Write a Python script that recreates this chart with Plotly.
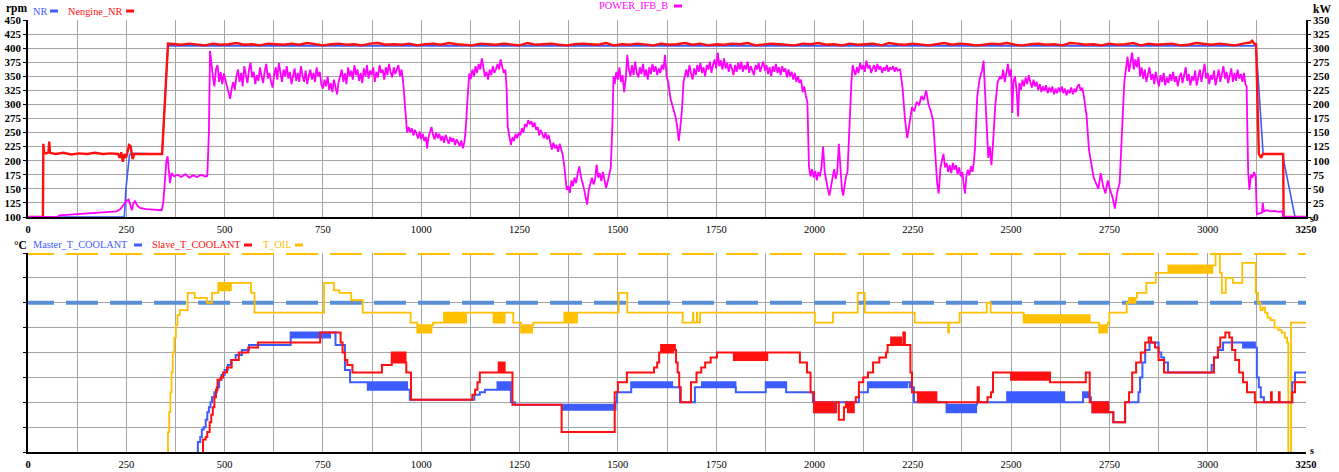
import plotly.graph_objects as go

# ---------------- axis ticks ----------------
time_ticks = [0, 125, 250, 375, 500, 625, 750, 875, 1000, 1125, 1250, 1375, 1500, 1625,
              1750, 1875, 2000, 2125, 2250, 2375, 2500, 2625, 2750, 2875, 3000, 3125, 3250]
time_labels = ["<b>0</b>", "", "250", "", "500", "", "750", "", "1000", "", "1250", "", "1500", "",
               "1750", "", "2000", "", "2250", "", "2500", "", "2750", "", "3000", "", "<b>3250</b>"]
rpm_ticks = [100, 125, 150, 175, 200, 225, 250, 275, 300, 325, 350, 375, 400, 425, 450]
kw_ticks = [0, 25, 50, 75, 100, 125, 150, 175, 200, 225, 250, 275, 300, 325, 350]
temp_ticks = [40, 50, 60, 70, 80, 90, 100, 110, 120]

# ---------------- speed signals (rpm) ----------------
nr = [(0, 100), (245, 100), (249, 150), (255, 200), (258, 210), (262, 213), (341, 212), (356, 404),
      (600, 404), (900, 403.5), (1200, 404), (1500, 403.5), (1800, 404), (2100, 403.5), (2400, 404),
      (2700, 403.5), (3000, 404), (3123, 404), (3141, 212), (3190, 212), (3222, 100)]

nengine_nr = [
    (0, 100), (38, 100), (39, 230), (41, 214), (46, 213), (52, 215), (54, 234), (56, 214), (70, 212),
    (90, 214), (110, 211), (130, 213), (150, 212), (170, 214), (190, 212), (210, 213), (229, 212),
    (233, 205), (237, 215), (241, 198), (245, 212), (249, 205), (253, 215), (257, 228), (261, 226),
    (264, 210), (266, 203), (270, 212), (290, 212), (310, 213), (330, 212), (341, 212), (356, 408),
    (370, 407), (390, 406), (410, 408), (430, 407), (450, 405), (470, 408), (490, 406), (510, 407),
    (530, 409), (550, 406), (570, 407), (590, 405), (610, 408), (630, 407), (650, 406), (670, 408),
    (690, 406), (710, 409), (730, 407), (750, 405), (770, 407), (790, 408), (810, 406), (830, 407),
    (850, 405), (870, 408), (890, 409), (910, 406), (930, 407), (950, 406), (970, 408), (990, 405),
    (1010, 407), (1030, 408), (1050, 406), (1070, 409), (1090, 407), (1110, 406), (1130, 405),
    (1150, 408), (1170, 407), (1190, 406), (1210, 408), (1230, 407), (1250, 405), (1270, 409),
    (1290, 406), (1310, 407), (1330, 408), (1350, 406), (1370, 405), (1390, 407), (1410, 408),
    (1430, 407), (1450, 406), (1470, 409), (1490, 405), (1510, 407), (1530, 406), (1550, 408),
    (1570, 407), (1590, 405), (1610, 408), (1630, 406), (1650, 407), (1670, 409), (1690, 406),
    (1710, 408), (1730, 405), (1750, 407), (1770, 406), (1790, 408), (1810, 407), (1830, 409),
    (1850, 405), (1870, 406), (1890, 408), (1910, 407), (1930, 406), (1950, 405), (1970, 408),
    (1990, 407), (2010, 409), (2030, 406), (2050, 407), (2070, 405), (2090, 408), (2110, 406),
    (2130, 407), (2150, 408), (2170, 405), (2190, 409), (2210, 407), (2230, 406), (2250, 408),
    (2270, 406), (2290, 405), (2310, 407), (2330, 409), (2350, 406), (2370, 408), (2390, 407),
    (2410, 405), (2430, 406), (2450, 408), (2470, 407), (2490, 409), (2510, 406), (2530, 405),
    (2550, 407), (2570, 408), (2590, 406), (2610, 407), (2630, 405), (2650, 409), (2670, 408),
    (2690, 406), (2710, 407), (2730, 405), (2750, 408), (2770, 406), (2790, 407), (2810, 409),
    (2830, 405), (2850, 408), (2870, 406), (2890, 407), (2910, 408), (2930, 405), (2950, 406),
    (2970, 409), (2990, 407), (3010, 406), (3030, 408), (3050, 407), (3070, 405), (3090, 408),
    (3108, 410), (3113, 413), (3118, 408), (3123, 407), (3126, 300), (3130, 212), (3136, 205),
    (3140, 212), (3160, 212), (3180, 212), (3192, 212), (3193, 100), (3250, 100)]

# ---------------- power (kW) ----------------
power_ifb_b = [
    (0, 0), (75, 0), (80, 3), (100, 4), (120, 5), (140, 6), (160, 7), (180, 8), (200, 9), (225, 10),
    (235, 14), (242, 20), (250, 28), (256, 31), (260, 22), (264, 12), (268, 24), (272, 28), (278, 20),
    (285, 16), (300, 14), (320, 13), (340, 12), (344, 25), (348, 70), (352, 100), (355, 108), (358, 80),
    (361, 60), (365, 78), (372, 72), (380, 75), (390, 71), (400, 76), (410, 70), (420, 74), (430, 71),
    (440, 75), (450, 72), (456, 73),
    (460, 150), (463, 295), (466, 270), (470, 250), (474, 232), (478, 262), (482, 270), (486, 240),
    (490, 258), (494, 236), (498, 255), (502, 244), (506, 228), (510, 220), (514, 210), (518, 228),
    (522, 240), (526, 226), (530, 250), (534, 262), (538, 240), (542, 256), (546, 232), (550, 268),
    (554, 250), (558, 238), (562, 262), (566, 274), (570, 248), (574, 258), (578, 236), (582, 252),
    (586, 242), (590, 266), (594, 250), (598, 238), (602, 260), (606, 272), (610, 246), (614, 256),
    (618, 240), (622, 230), (626, 252), (630, 266), (634, 244), (638, 274), (642, 256), (646, 240),
    (650, 262), (654, 250), (658, 268), (662, 246), (666, 258), (670, 236), (674, 250), (678, 264),
    (682, 242), (686, 256), (690, 240), (694, 268), (698, 252), (702, 240), (706, 260), (710, 236),
    (714, 250), (718, 262), (722, 244), (726, 256), (730, 240), (734, 266), (738, 250), (742, 258),
    (746, 236), (750, 228), (754, 244), (758, 232), (762, 250), (766, 226), (770, 238), (774, 222),
    (778, 244), (782, 228), (786, 218), (790, 240), (794, 250), (798, 262), (802, 240), (806, 255),
    (810, 236), (814, 266), (818, 250), (822, 260), (826, 244), (830, 270), (834, 252), (838, 262),
    (842, 242), (846, 256), (850, 238), (854, 264), (858, 250), (862, 270), (866, 246), (870, 260),
    (874, 252), (878, 266), (882, 240), (886, 258), (890, 248), (894, 270), (898, 256), (902, 262),
    (906, 244), (910, 266), (914, 252), (918, 272), (922, 258), (926, 248), (930, 266), (934, 254),
    (938, 262), (942, 270), (946, 250), (950, 262), (954, 240),
    (958, 200), (961, 165), (964, 150), (968, 160), (972, 150), (976, 158), (980, 145), (984, 155),
    (988, 148), (992, 140), (996, 152), (1000, 138), (1004, 148), (1008, 135), (1012, 142),
    (1015, 122), (1018, 140), (1022, 150), (1026, 160), (1030, 146), (1034, 138), (1038, 150),
    (1042, 140), (1046, 148), (1050, 136), (1054, 144), (1058, 132), (1062, 146), (1066, 138),
    (1070, 130), (1074, 142), (1078, 134), (1082, 140), (1086, 128), (1090, 138), (1094, 132),
    (1098, 126), (1102, 136), (1106, 122), (1110, 134), (1113, 155),
    (1116, 190), (1119, 232), (1122, 255), (1126, 245), (1130, 262), (1134, 250), (1138, 268),
    (1142, 256), (1146, 272), (1150, 262), (1154, 282), (1158, 266), (1162, 250), (1166, 258),
    (1170, 244), (1174, 262), (1178, 252), (1182, 268), (1186, 256), (1190, 262), (1194, 272),
    (1198, 262), (1202, 280), (1206, 266), (1210, 256), (1214, 262), (1217, 230),
    (1220, 160), (1224, 140), (1228, 128), (1232, 142), (1236, 135), (1240, 148), (1244, 140),
    (1248, 150), (1252, 145), (1256, 158), (1260, 150), (1264, 165), (1268, 160), (1272, 172),
    (1276, 165), (1280, 170), (1284, 160), (1288, 168), (1292, 155), (1296, 160), (1300, 145),
    (1304, 155), (1308, 148), (1312, 140), (1316, 150), (1320, 138), (1324, 146), (1328, 130),
    (1332, 120), (1336, 132), (1340, 122), (1344, 128), (1348, 116), (1352, 130), (1356, 120),
    (1360, 110),
    (1364, 90), (1367, 60), (1370, 48), (1374, 55), (1378, 43), (1382, 65), (1386, 55), (1390, 70),
    (1394, 60), (1398, 78), (1402, 90), (1406, 72), (1410, 62), (1414, 50), (1418, 35), (1422, 22),
    (1426, 48), (1430, 62), (1434, 70), (1438, 58), (1442, 66), (1446, 93), (1450, 70), (1454, 78),
    (1458, 64), (1462, 80), (1466, 68), (1470, 52), (1474, 62), (1478, 74), (1482, 88),
    (1486, 160), (1489, 250), (1492, 236), (1496, 258), (1500, 244), (1504, 266), (1508, 240),
    (1512, 252), (1516, 222), (1520, 245), (1524, 288), (1528, 262), (1532, 250), (1536, 270),
    (1540, 252), (1544, 276), (1548, 256), (1552, 248), (1556, 266), (1560, 254), (1564, 272),
    (1568, 250), (1572, 262), (1576, 244), (1580, 266), (1584, 254), (1588, 272), (1592, 258),
    (1596, 268), (1600, 252), (1604, 264), (1608, 256), (1612, 270), (1616, 262), (1620, 288),
    (1624, 250),
    (1628, 240), (1634, 210), (1640, 195), (1646, 180), (1650, 165), (1655, 135), (1659, 160),
    (1663, 190), (1667, 240),
    (1670, 250), (1674, 262), (1678, 248), (1682, 270), (1686, 256), (1690, 244), (1694, 264),
    (1698, 252), (1702, 270), (1706, 258), (1710, 274), (1714, 256), (1718, 266), (1722, 250),
    (1726, 270), (1730, 262), (1734, 276), (1738, 256), (1742, 270), (1746, 280), (1750, 264),
    (1754, 292), (1758, 268), (1762, 278), (1766, 262), (1770, 282), (1774, 264), (1778, 274),
    (1782, 258), (1786, 272), (1790, 264), (1794, 252), (1798, 270), (1802, 258), (1806, 274),
    (1810, 262), (1814, 276), (1818, 258), (1822, 270), (1826, 262), (1830, 276), (1834, 256),
    (1838, 268), (1842, 260), (1846, 252), (1850, 270), (1854, 262), (1858, 274), (1862, 258),
    (1866, 268), (1870, 276), (1874, 260), (1878, 270), (1882, 254), (1886, 266), (1890, 250),
    (1894, 268), (1898, 258), (1902, 272), (1906, 256), (1910, 266), (1914, 252), (1918, 268),
    (1922, 258), (1926, 264), (1930, 248), (1934, 262), (1938, 250), (1942, 258), (1946, 244),
    (1950, 256), (1954, 240), (1958, 250), (1962, 238), (1966, 244), (1970, 222), (1974, 232),
    (1978, 215), (1982, 205),
    (1986, 90), (1990, 72), (1994, 85), (1998, 70), (2002, 82), (2006, 65), (2010, 80), (2014, 72),
    (2018, 90), (2022, 125), (2026, 80), (2030, 62), (2034, 50), (2038, 38), (2042, 55), (2046, 70),
    (2050, 85), (2054, 68), (2058, 80), (2062, 130), (2066, 82), (2070, 48), (2073, 38), (2076, 58),
    (2080, 72), (2084, 80),
    (2088, 150), (2091, 215), (2094, 240), (2097, 270), (2100, 262), (2104, 252), (2108, 266),
    (2112, 256), (2116, 274), (2120, 262), (2124, 270), (2128, 258), (2132, 278), (2136, 264),
    (2140, 270), (2144, 256), (2148, 264), (2152, 270), (2156, 258), (2160, 272), (2164, 262),
    (2168, 268), (2172, 256), (2176, 266), (2180, 260), (2184, 270), (2188, 258), (2192, 266),
    (2196, 262), (2200, 268), (2204, 258), (2208, 266), (2212, 260),
    (2218, 262), (2224, 230), (2230, 175), (2236, 140), (2242, 170), (2248, 195), (2254, 188),
    (2260, 205), (2266, 198), (2272, 215), (2278, 208), (2284, 225), (2290, 200), (2296, 188),
    (2302, 170), (2306, 130), (2312, 60), (2316, 42),
    (2320, 85), (2324, 100), (2328, 112), (2332, 88), (2336, 96), (2340, 80), (2344, 92), (2348, 78),
    (2352, 96), (2356, 84), (2360, 92), (2364, 76), (2368, 88), (2372, 72), (2376, 80), (2380, 55),
    (2383, 42), (2386, 70), (2390, 84), (2394, 74), (2398, 90), (2402, 80), (2405, 95),
    (2408, 120), (2414, 215), (2420, 245), (2426, 260), (2430, 278), (2434, 220), (2438, 150),
    (2442, 105), (2446, 125), (2450, 92), (2454, 130), (2460, 200), (2466, 240), (2472, 250),
    (2476, 245), (2480, 262), (2484, 240), (2488, 258), (2492, 272), (2496, 250), (2500, 262),
    (2503, 185), (2506, 240), (2510, 250), (2514, 226), (2518, 178), (2521, 238), (2525, 226),
    (2529, 244), (2533, 232), (2537, 248), (2541, 236), (2545, 252), (2549, 240), (2553, 230),
    (2557, 244), (2561, 232), (2565, 240), (2569, 226), (2573, 236), (2577, 222), (2581, 232),
    (2585, 224), (2589, 234), (2593, 220), (2597, 230), (2601, 222), (2605, 232), (2609, 218),
    (2613, 228), (2617, 220), (2621, 230), (2625, 222), (2629, 232), (2633, 220), (2637, 228),
    (2641, 216), (2645, 226), (2649, 220), (2653, 230), (2657, 218), (2661, 228), (2665, 222),
    (2669, 232), (2673, 236), (2677, 224), (2681, 230), (2685, 215),
    (2692, 180), (2698, 120), (2704, 95), (2710, 70), (2716, 60), (2722, 50), (2728, 78), (2734, 55),
    (2740, 42), (2746, 65), (2752, 48), (2758, 35), (2764, 15), (2770, 45), (2776, 60),
    (2780, 120), (2784, 200), (2788, 240), (2792, 262), (2796, 285), (2800, 258), (2804, 272),
    (2808, 292), (2812, 262), (2816, 280), (2820, 266), (2824, 284), (2828, 250), (2832, 266),
    (2836, 246), (2840, 262), (2844, 240), (2848, 256), (2852, 266), (2856, 244), (2860, 254),
    (2864, 236), (2868, 258), (2872, 244), (2876, 232), (2880, 252), (2884, 240), (2888, 256),
    (2892, 234), (2896, 248), (2900, 238), (2904, 254), (2908, 242), (2912, 258), (2916, 240),
    (2920, 250), (2924, 232), (2928, 248), (2932, 256), (2936, 238), (2940, 250), (2944, 266),
    (2948, 242), (2952, 254), (2956, 234), (2960, 250), (2964, 242), (2968, 260), (2972, 234),
    (2976, 250), (2980, 262), (2984, 240), (2988, 254), (2992, 272), (2996, 246), (3000, 256),
    (3004, 236), (3008, 252), (3012, 244), (3016, 260), (3020, 234), (3024, 250), (3028, 262),
    (3032, 240), (3036, 254), (3040, 268), (3044, 246), (3048, 258), (3052, 238), (3056, 252),
    (3060, 264), (3064, 240), (3068, 256), (3072, 242), (3076, 262), (3080, 246), (3084, 254),
    (3088, 240), (3092, 256), (3096, 236), (3099, 232),
    (3101, 150), (3103, 80), (3106, 48), (3110, 75), (3114, 70), (3118, 80), (3122, 72), (3125, 5),
    (3130, 6), (3138, 8), (3140, 25), (3143, 10), (3150, 12), (3160, 10), (3170, 11), (3180, 9),
    (3190, 10), (3192, 0), (3250, 0)]

# ---------------- temperatures ----------------
coolant_limit = 100
oil_limit = 120

master_t_coolant = [
    (430, 40), (432, 44), (438, 46), (442, 49), (447, 50), (452, 53), (456, 56), (460, 58), (464, 60),
    (468, 62), (474, 64), (480, 66), (486, 69), (492, 71), (500, 73), (508, 75), (516, 77), (528, 79),
    (544, 81), (562, 83), (666, 83),
    (668, 88), (673, 86), (678, 88), (683, 86), (688, 88), (693, 86), (698, 88), (703, 86), (708, 88),
    (713, 86), (718, 88), (723, 86), (728, 88), (733, 86), (738, 88), (743, 86), (748, 88), (753, 86),
    (758, 88), (763, 86), (768, 88), (780, 88), (782, 83), (800, 83), (806, 73), (819, 68), (860, 68),
    (864, 65), (869, 68), (874, 65), (879, 68), (884, 65), (889, 68), (894, 65), (899, 68), (904, 65),
    (909, 68), (914, 65), (919, 68), (924, 65), (929, 68), (934, 65), (939, 68), (944, 65), (949, 68),
    (954, 65), (959, 68), (964, 65),
    (971, 61), (1124, 61), (1135, 63), (1149, 64), (1162, 65), (1190, 65),
    (1194, 68), (1199, 65), (1204, 68), (1209, 65), (1214, 68), (1219, 65), (1224, 68),
    (1228, 60), (1238, 59), (1353, 59),
    (1358, 57), (1363, 59), (1368, 57), (1373, 59), (1378, 57), (1383, 59), (1388, 57), (1393, 59),
    (1398, 57), (1403, 59), (1408, 57), (1413, 59), (1418, 57), (1423, 59), (1428, 57), (1433, 59),
    (1438, 57), (1443, 59), (1448, 57), (1453, 59), (1458, 57), (1463, 59), (1468, 57), (1473, 59),
    (1478, 57), (1483, 59), (1488, 57),
    (1494, 60), (1498, 64), (1523, 64), (1534, 68),
    (1538, 66), (1543, 68), (1548, 66), (1553, 68), (1558, 66), (1563, 68), (1568, 66), (1573, 68),
    (1578, 66), (1583, 68), (1588, 66), (1593, 68), (1598, 66), (1603, 68), (1608, 66), (1613, 68),
    (1618, 66), (1623, 68), (1628, 66), (1633, 68), (1638, 66),
    (1650, 66), (1658, 60), (1686, 60), (1696, 66), (1709, 66),
    (1714, 68), (1719, 66), (1724, 68), (1729, 66), (1734, 68), (1739, 66), (1744, 68), (1749, 66),
    (1754, 68), (1759, 66), (1764, 68), (1769, 66), (1774, 68), (1779, 66), (1784, 68), (1789, 66),
    (1794, 68), (1799, 66),
    (1800, 64), (1872, 64),
    (1876, 68), (1881, 66), (1886, 68), (1891, 66), (1896, 68), (1901, 66), (1906, 68), (1911, 66),
    (1916, 68), (1921, 66), (1926, 68),
    (1928, 64), (1986, 64), (1996, 60),
    (2000, 56), (2005, 60), (2010, 56), (2015, 60), (2020, 56), (2025, 60), (2030, 56), (2035, 60),
    (2040, 56), (2045, 60), (2050, 56), (2055, 60),
    (2103, 60), (2113, 64), (2136, 68),
    (2141, 66), (2146, 68), (2151, 66), (2156, 68), (2161, 66), (2166, 68), (2171, 66), (2176, 68),
    (2181, 66), (2186, 68), (2191, 66), (2196, 68), (2201, 66), (2206, 68), (2211, 66), (2216, 68),
    (2221, 66), (2226, 68), (2231, 66), (2236, 68),
    (2243, 66), (2253, 60), (2332, 60),
    (2336, 56), (2341, 59), (2346, 56), (2351, 59), (2356, 56), (2361, 59), (2366, 56), (2371, 59),
    (2376, 56), (2381, 59), (2386, 56), (2391, 59), (2396, 56), (2401, 59), (2406, 56), (2411, 59),
    (2413, 60), (2485, 60),
    (2490, 64), (2495, 60), (2500, 64), (2505, 60), (2510, 64), (2515, 60), (2520, 64), (2525, 60),
    (2530, 64), (2535, 60), (2540, 64), (2545, 60), (2550, 64), (2555, 60), (2560, 64), (2565, 60),
    (2570, 64), (2575, 60), (2580, 64), (2585, 60), (2590, 64), (2595, 60), (2600, 64), (2605, 60),
    (2610, 64), (2615, 60), (2620, 64), (2625, 60), (2630, 64), (2635, 60),
    (2680, 60), (2683, 64), (2688, 62), (2693, 64), (2698, 62), (2703, 60),
    (2707, 56), (2712, 60), (2717, 56), (2722, 60), (2727, 56), (2732, 60), (2737, 56), (2742, 60),
    (2747, 56),
    (2760, 52), (2785, 52), (2790, 60), (2818, 60), (2824, 64), (2828, 70), (2834, 76), (2841, 81),
    (2852, 84), (2866, 84), (2875, 80), (2882, 78), (2889, 76), (2899, 72), (3003, 72), (3010, 75),
    (3016, 78), (3026, 81), (3039, 84), (3085, 84),
    (3090, 82), (3095, 84), (3100, 82), (3105, 84), (3110, 82), (3115, 84), (3120, 82),
    (3125, 70), (3130, 66), (3135, 62), (3143, 60), (3212, 60), (3215, 68), (3222, 72), (3250, 72)]

slave_t_coolant = [
    (443, 40), (445, 45), (452, 46), (456, 48), (462, 52), (466, 55), (470, 58), (474, 62), (478, 65),
    (482, 69), (490, 70), (496, 72), (506, 74), (518, 77), (536, 80), (560, 82), (585, 84), (740, 84),
    (743, 88), (790, 88), (795, 84), (800, 80), (806, 77), (812, 75), (825, 72), (895, 72), (900, 75),
    (921, 75),
    (925, 80), (930, 76), (935, 80), (940, 76), (945, 80), (950, 76), (955, 80), (960, 76),
    (962, 72), (970, 72), (974, 61), (1124, 61), (1130, 63), (1137, 65), (1143, 68), (1149, 72),
    (1193, 72),
    (1197, 76), (1202, 72), (1207, 76), (1212, 72),
    (1226, 72), (1232, 59), (1353, 59), (1357, 48), (1490, 48), (1492, 64), (1500, 68), (1523, 72),
    (1582, 72), (1592, 74), (1600, 76),
    (1605, 80), (1610, 83), (1615, 80), (1620, 83), (1625, 80), (1630, 83), (1635, 80), (1640, 83),
    (1645, 81), (1648, 76), (1652, 72), (1656, 66), (1660, 60), (1673, 60), (1686, 68), (1700, 72),
    (1712, 74), (1722, 76), (1736, 78), (1752, 80), (1790, 80),
    (1795, 77), (1800, 80), (1805, 77), (1810, 80), (1815, 77), (1820, 80), (1825, 77), (1830, 80),
    (1835, 77), (1840, 80), (1845, 77), (1850, 80), (1855, 77), (1860, 80), (1865, 77), (1870, 80),
    (1875, 77), (1880, 80),
    (1950, 80), (1963, 76), (1981, 72), (1990, 64), (1999, 56),
    (2004, 60), (2009, 56), (2014, 60), (2019, 56), (2024, 60), (2029, 56), (2034, 60), (2039, 56),
    (2044, 60), (2049, 56), (2055, 60),
    (2062, 53), (2070, 53), (2075, 58),
    (2080, 60), (2085, 56), (2090, 60), (2095, 56), (2100, 60),
    (2105, 62), (2113, 68), (2124, 70), (2136, 72), (2149, 76), (2165, 78), (2182, 80), (2186, 83),
    (2195, 86), (2200, 83), (2205, 86), (2210, 83), (2215, 86), (2220, 83),
    (2226, 88), (2230, 83), (2240, 83), (2244, 72), (2248, 64),
    (2258, 64), (2263, 60), (2268, 64), (2273, 60), (2278, 64), (2283, 60), (2288, 64), (2293, 60),
    (2298, 64), (2303, 60), (2308, 64),
    (2310, 60), (2413, 60), (2415, 66), (2418, 60), (2436, 60), (2440, 62), (2449, 64), (2454, 72),
    (2495, 72),
    (2500, 69), (2505, 72), (2510, 69), (2515, 72), (2520, 69), (2525, 72), (2530, 69), (2535, 72),
    (2540, 69), (2545, 72), (2550, 69), (2555, 72), (2560, 69), (2565, 72), (2570, 69), (2575, 72),
    (2580, 69), (2585, 72), (2590, 69), (2595, 72),
    (2599, 68), (2688, 68), (2690, 72), (2693, 72), (2700, 60),
    (2707, 56), (2712, 60), (2717, 56), (2722, 60), (2727, 56), (2732, 60), (2737, 56), (2742, 60),
    (2747, 56),
    (2760, 52), (2785, 52), (2790, 60), (2800, 64), (2808, 72), (2818, 76), (2830, 80), (2841, 84),
    (2850, 86), (2856, 84), (2866, 82), (2875, 77), (2889, 72), (3003, 72), (3016, 78), (3026, 82),
    (3032, 86), (3045, 88), (3055, 86), (3062, 81), (3070, 77), (3080, 72), (3090, 68), (3100, 64),
    (3120, 60), (3160, 60), (3161, 64), (3163, 60), (3180, 60), (3181, 64), (3183, 60), (3212, 60),
    (3215, 64), (3222, 68), (3250, 68)]

t_oil = [
    (353, 40), (356, 48), (359, 56), (362, 64), (365, 72), (368, 80), (372, 86), (376, 91), (380, 95),
    (386, 97), (404, 97), (406, 104), (422, 104), (424, 102),
    (452, 102), (455, 100), (466, 100), (468, 104), (482, 104),
    (484, 108), (488, 105), (492, 108), (496, 105), (500, 108), (504, 105), (508, 108), (512, 105),
    (516, 108), (520, 108), (565, 108), (567, 104), (574, 104), (576, 96), (751, 96), (753, 108),
    (776, 108), (778, 105), (790, 105), (792, 104), (818, 104), (822, 101), (848, 101), (851, 96),
    (970, 96), (973, 92), (988, 92),
    (990, 88), (994, 91), (998, 88), (1002, 91), (1006, 88), (1010, 91), (1014, 88), (1018, 91),
    (1022, 88), (1026, 91), (1030, 92), (1055, 92),
    (1058, 96), (1062, 92), (1066, 96), (1070, 92), (1074, 96), (1078, 92), (1082, 96), (1086, 92),
    (1090, 96), (1094, 92), (1098, 96), (1102, 92), (1106, 96), (1110, 92), (1114, 96),
    (1182, 96), (1184, 92), (1188, 96), (1192, 92), (1196, 96), (1200, 92), (1204, 96), (1208, 92),
    (1212, 96), (1232, 96), (1234, 92), (1250, 92),
    (1254, 88), (1258, 91), (1262, 88), (1266, 91), (1270, 88), (1274, 91), (1278, 88), (1282, 91),
    (1285, 92), (1360, 92),
    (1364, 96), (1368, 92), (1372, 96), (1376, 92), (1380, 96), (1384, 92), (1388, 96), (1392, 92),
    (1396, 96), (1498, 96), (1502, 104), (1520, 104), (1524, 96), (1662, 96), (1665, 92), (1690, 92),
    (1691, 96), (1692, 92), (1700, 92), (1701, 96), (1702, 92), (1707, 92), (1709, 96),
    (1998, 96), (2001, 92), (2044, 92), (2047, 96), (2106, 96), (2110, 104), (2124, 104), (2128, 96),
    (2252, 96), (2255, 92), (2338, 92), (2340, 88), (2342, 92), (2366, 92), (2369, 96), (2435, 96),
    (2438, 100), (2445, 100), (2448, 96), (2528, 96),
    (2532, 92), (2536, 95), (2540, 92), (2544, 95), (2548, 92), (2552, 95), (2556, 92), (2560, 95),
    (2564, 92), (2568, 95), (2572, 92), (2576, 95), (2580, 92), (2584, 95), (2588, 92), (2592, 95),
    (2596, 92), (2600, 95), (2604, 92), (2608, 95), (2612, 92), (2616, 95), (2620, 92), (2624, 95),
    (2628, 92), (2632, 95), (2636, 92), (2640, 95), (2644, 92), (2648, 95), (2652, 92), (2656, 95),
    (2660, 92), (2664, 95), (2668, 92), (2672, 95), (2676, 92), (2680, 95), (2684, 92), (2688, 95),
    (2692, 92), (2696, 95),
    (2700, 92), (2720, 92),
    (2724, 88), (2728, 91), (2732, 88), (2736, 91), (2740, 88), (2744, 91),
    (2746, 92), (2750, 96), (2790, 96), (2794, 100), (2800, 102), (2804, 100), (2808, 102),
    (2812, 100), (2816, 102), (2820, 104), (2840, 104), (2844, 108), (2864, 108), (2868, 112),
    (2898, 112),
    (2900, 115), (2904, 112), (2908, 115), (2912, 112), (2916, 115), (2920, 112), (2924, 115),
    (2928, 112), (2932, 115), (2936, 112), (2940, 115), (2944, 112), (2948, 115), (2952, 112),
    (2956, 115), (2960, 112), (2964, 115), (2968, 112), (2972, 115), (2976, 112), (2980, 115),
    (2984, 112), (2988, 115), (2992, 112), (2996, 115), (3000, 112), (3004, 115), (3008, 112),
    (3012, 115),
    (3016, 115), (3020, 120), (3028, 120), (3031, 112), (3036, 104), (3042, 104), (3046, 110),
    (3060, 110), (3064, 108), (3084, 108), (3088, 116), (3118, 116), (3122, 104), (3128, 100),
    (3134, 97), (3140, 98), (3146, 96), (3152, 94), (3160, 93), (3170, 90), (3180, 89), (3188, 88),
    (3196, 86), (3202, 84), (3205, 40), (3210, 40), (3212, 92), (3250, 92)]

# ---------------- styling ----------------
FONT = "Liberation Serif, Times New Roman, Times, serif"
GRID = "#a6a6a6"
C_NR = "#3c5cff"
C_NENG = "#ff1010"
C_POW = "#ff00ff"
C_MASTER = "#3c5cff"
C_SLAVE = "#ff1010"
C_OIL = "#ffc000"
C_LIM_COOL = "#5b8fd8"

W, H = 1339, 472
ML, MR, MT, MB = 28, 33, 20, 20
PW, PH = W - ML - MR, H - MT - MB
T_MAX = 3250
# limit lines start slightly left of t=0 so the dash pattern lines up with the frame
LIMIT_T0 = -6 * T_MAX / PW


def px(x):
    return (x - ML) / PW


def py(y):
    return (H - MB - y) / PH


def unzip(pairs):
    xs, ys = zip(*pairs)
    return list(xs), list(ys)


fig = go.Figure()


def add_line(pairs, color, width, xaxis, yaxis, dash=None, shape="linear"):
    xs, ys = unzip(pairs)
    fig.add_trace(go.Scatter(x=xs, y=ys, mode="lines",
                             line=dict(color=color, width=width, dash=dash, shape=shape),
                             xaxis=xaxis, yaxis=yaxis, showlegend=False, hoverinfo="skip"))


# top panel: speeds + power
add_line(nr, C_NR, 1.6, "x", "y")
add_line(nengine_nr, C_NENG, 2.4, "x", "y")
add_line(power_ifb_b, C_POW, 1.8, "x", "y2")

# bottom panel: limits + temperatures (quantised sensor signals -> step lines)
add_line([(LIMIT_T0, oil_limit), (T_MAX, oil_limit)], C_OIL, 4, "x2", "y3", dash="32px,12px")
add_line([(LIMIT_T0, coolant_limit), (T_MAX, coolant_limit)], C_LIM_COOL, 4, "x2", "y3",
         dash="32px,12px")
add_line(t_oil, C_OIL, 1.8, "x2", "y3", shape="hv")
add_line(master_t_coolant, C_MASTER, 2, "x2", "y3", shape="hv")
add_line(slave_t_coolant, C_SLAVE, 2, "x2", "y3", shape="hv")

top_dom = [py(217), 1.0]
bot_dom = [0.0, py(253)]

tick_font = dict(family=FONT, size=11, color="black")
xtick_font = dict(family=FONT, size=10.5, color="black")
xaxis_common = dict(range=[0, T_MAX], tickmode="array", tickvals=time_ticks, ticktext=time_labels,
                    showgrid=True, gridcolor=GRID, gridwidth=1, showline=True, linecolor="black",
                    linewidth=1.5, ticks="outside", ticklen=2, tickcolor="rgba(0,0,0,0)",
                    zeroline=False, automargin=False, tickfont=xtick_font)

fig.update_layout(
    width=W, height=H,
    margin=dict(l=ML, r=MR, t=MT, b=MB, pad=0, autoexpand=False),
    paper_bgcolor="white", plot_bgcolor="white",
    showlegend=False,
    font=dict(family=FONT, size=11, color="black"),
    xaxis=dict(domain=[0, 1], anchor="y", **xaxis_common),
    xaxis2=dict(domain=[0, 1], anchor="y3", **xaxis_common),
    yaxis=dict(domain=top_dom, anchor="x", range=[100, 450], tickmode="array", tickvals=rpm_ticks,
               ticktext=[f"<b>{v}</b>" for v in rpm_ticks], showgrid=True, gridcolor=GRID,
               showline=True, linecolor="black", linewidth=1.5, ticks="outside", ticklen=3,
               tickcolor="black", zeroline=False, automargin=False, tickfont=tick_font),
    yaxis2=dict(domain=top_dom, anchor="x", overlaying="y", side="right", range=[0, 350],
                tickmode="array", tickvals=kw_ticks, ticktext=[f"<b>{v}</b>" for v in kw_ticks],
                showgrid=False, showline=True, linecolor="black", linewidth=1.5, ticks="outside",
                ticklen=3, tickcolor="black", zeroline=False, automargin=False, tickfont=tick_font),
    yaxis3=dict(domain=bot_dom, anchor="x2", range=[40, 120], tickmode="array", tickvals=temp_ticks,
                showticklabels=False, showgrid=True, gridcolor=GRID, showline=True, linecolor="black",
                linewidth=1.5, ticks="outside", ticklen=3, tickcolor="black", zeroline=False,
                automargin=False),
)

# unit labels and series keys
annots = []
shapes = []
KEY_SIZE = 10.3


def label(x, y, text, color="black", bold=False, size=KEY_SIZE, anchor="left"):
    t = f"<b>{text}</b>" if bold else text
    annots.append(dict(x=px(x), y=py(y), xref="paper", yref="paper", text=t, showarrow=False,
                       xanchor=anchor, yanchor="middle", borderpad=0,
                       font=dict(family=FONT, size=size, color=color)))


def key(x0, x1, y, color):
    shapes.append(dict(type="line", xref="paper", yref="paper", x0=px(x0), x1=px(x1),
                       y0=py(y), y1=py(y), line=dict(color=color, width=3)))


label(5, 9, "rpm", bold=True, size=11.5)
label(32, 11, "NR", C_NR)
key(50, 58, 11, C_NR)
label(67, 11, "Nengine_NR", C_NENG)
key(126, 134, 11, C_NENG)
label(598, 6, "POWER_IFB_B", C_POW)
key(674, 682, 6, C_POW)
label(1312, 9, "kW", bold=True, size=11.5)

label(13, 245, "°C", bold=True, size=11.5)
label(32, 245, "Master_T_COOLANT", C_MASTER)
key(134, 142, 245, C_MASTER)
label(151, 245, "Slave_T_COOLANT", C_SLAVE)
key(244, 252, 245, C_SLAVE)
label(262, 245, "T_OIL", C_OIL)
key(295, 303, 245, C_OIL)

label(1309, 218, "s", bold=True, size=10)
label(1309, 450, "s", bold=True, size=10)

fig.update_layout(annotations=annots, shapes=shapes)

fig.write_html("out.html")
